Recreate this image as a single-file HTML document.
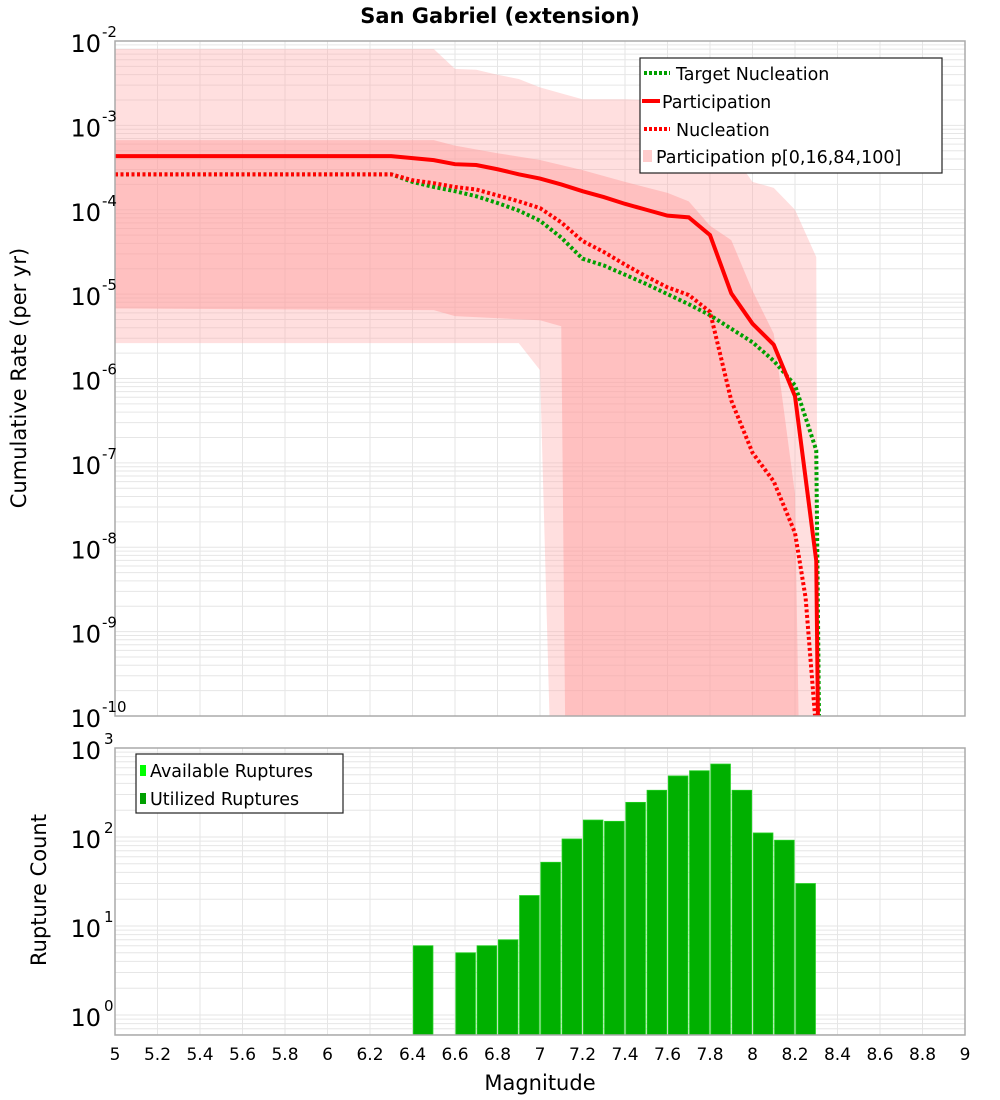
<!DOCTYPE html>
<html><head><meta charset="utf-8"><style>
body{margin:0;background:#fff;}
svg{display:block;font-family:"DejaVu Sans","Liberation Sans",sans-serif;}
</style></head><body>
<svg id="chart" width="1000" height="1100" viewBox="0 0 1000 1100">
<g id="topplot"></g>
<g id="botplot"></g>
<text x="500" y="23" text-anchor="middle" font-size="21" font-weight="bold">San Gabriel (extension)</text>
<text transform="translate(26,378) rotate(-90)" text-anchor="middle" font-size="21">Cumulative Rate (per yr)</text>
<text transform="translate(46,890) rotate(-90)" text-anchor="middle" font-size="21">Rupture Count</text>
<text x="540" y="1090" text-anchor="middle" font-size="21">Magnitude</text>
<g>
<rect x="640" y="58" width="302" height="115" fill="#fff" stroke="#222" stroke-width="1.2"/>
<line x1="644" y1="73" x2="670" y2="73" stroke="#00a000" stroke-width="4" stroke-dasharray="3,2"/>
<text x="676" y="80" font-size="17.5">Target Nucleation</text>
<line x1="642" y1="101" x2="660" y2="101" stroke="#f00" stroke-width="4"/>
<text x="662" y="108" font-size="17.5">Participation</text>
<line x1="644" y1="129" x2="670" y2="129" stroke="#f00" stroke-width="4" stroke-dasharray="3,2"/>
<text x="676" y="136" font-size="17.5">Nucleation</text>
<rect x="643" y="150" width="9" height="12" fill="#ffcccc"/>
<text x="656" y="163" font-size="17.5">Participation p[0,16,84,100]</text>
</g>
<g>
<rect x="136" y="754" width="207" height="59" fill="#fff" stroke="#222" stroke-width="1.2"/>
<rect x="140" y="765" width="6" height="11" fill="#00ff00"/>
<text x="150" y="777" font-size="17.5">Available Ruptures</text>
<rect x="140" y="793" width="6" height="11" fill="#00a000"/>
<text x="150" y="805" font-size="17.5">Utilized Ruptures</text>
</g>
</svg>
<script>
// ---- data (rates stored as log10 values; -10.5 = below axis) ----
const partMag = [5.0,6.3,6.5,6.6,6.7,6.8,6.9,7.0,7.1,7.2,7.3,7.4,7.5,7.6,7.7,7.8,7.9,8.0,8.1,8.2,8.3,8.31];
const partLog = [-3.365,-3.365,-3.412,-3.46,-3.47,-3.52,-3.58,-3.63,-3.70,-3.78,-3.85,-3.93,-4.0,-4.07,-4.09,-4.30,-4.99,-5.35,-5.60,-6.21,-8.16,-10.5];
const nuclMag = [5.0,6.3,6.4,6.5,6.6,6.7,6.8,6.9,7.0,7.1,7.2,7.3,7.4,7.5,7.6,7.7,7.8,7.9,8.0,8.1,8.2,8.25,8.31];
const nuclLog = [-3.58,-3.58,-3.65,-3.685,-3.73,-3.76,-3.83,-3.90,-3.98,-4.15,-4.37,-4.50,-4.65,-4.79,-4.92,-5.01,-5.21,-6.26,-6.88,-7.22,-7.83,-8.6,-10.5];
const targMag = [5.0,6.3,6.4,6.5,6.6,6.7,6.8,6.9,7.0,7.1,7.2,7.3,7.4,7.5,7.6,7.7,7.8,7.9,8.0,8.1,8.2,8.3,8.315];
const targLog = [-3.58,-3.58,-3.67,-3.73,-3.78,-3.84,-3.92,-4.01,-4.13,-4.33,-4.58,-4.66,-4.77,-4.88,-5.00,-5.12,-5.25,-5.41,-5.57,-5.79,-6.08,-6.85,-10.5];
const p100Mag = [5.0,6.5,6.6,6.7,6.8,6.9,7.0,7.1,7.2,7.3,7.4,7.5,7.6,7.7,7.85,7.9,8.0,8.1,8.2,8.3,8.31];
const p100Log = [-2.095,-2.095,-2.33,-2.34,-2.40,-2.45,-2.55,-2.62,-2.69,-2.69,-2.69,-2.70,-2.70,-2.70,-3.2,-3.31,-3.67,-3.74,-4.0,-4.56,-10.5];
const p0Mag = [5.0,6.9,7.0,7.05];
const p0Log = [-5.58,-5.58,-5.90,-10.5];
const p84Mag = [5.0,6.5,6.6,6.8,7.0,7.2,7.4,7.6,7.7,7.8,7.9,8.0,8.1,8.2,8.22];
const p84Log = [-3.175,-3.175,-3.24,-3.33,-3.41,-3.53,-3.67,-3.80,-3.90,-4.19,-4.36,-4.96,-5.47,-7.37,-10.5];
const p16Mag = [5.0,6.5,6.6,7.0,7.1,7.12];
const p16Log = [-5.17,-5.19,-5.26,-5.31,-5.38,-10.5];
const barMags = [6.4,6.6,6.7,6.8,6.9,7.0,7.1,7.2,7.3,7.4,7.5,7.6,7.7,7.8,7.9,8.0,8.1,8.2];
const barCounts = [6,5,6,7,22,52,95,155,150,245,335,485,555,660,335,111,92,30];
const xTicks = ["5","5.2","5.4","5.6","5.8","6","6.2","6.4","6.6","6.8","7","7.2","7.4","7.6","7.8","8","8.2","8.4","8.6","8.8","9"];
const topExps = [-2,-3,-4,-5,-6,-7,-8,-9,-10];
const botExps = [3,2,1,0];

const NS="http://www.w3.org/2000/svg";
const L=115,R=965;
const T1=41,B1=716,T2=748,B2=1035;
const xs=m=>L+(m-5)/4*(R-L);
const yTop=lg=>T1+(-2-lg)*(B1-T1)/8;
const yBot=v=>T2+(3-Math.log10(v))*89;
function mk(parent,tag,attrs){const e=document.createElementNS(NS,tag);for(const k in attrs)e.setAttribute(k,attrs[k]);parent.appendChild(e);return e;}
const topG=document.getElementById('topplot'), botG=document.getElementById('botplot');

function grid(g,T,B,minorFn){
  mk(g,'rect',{x:L,y:T,width:R-L,height:B-T,fill:'#fff'});
  const gl=mk(g,'g',{stroke:'#e6e6e6','stroke-width':1});
  
  
  xTicks.forEach(t=>{const X=xs(+t);mk(gl,'line',{x1:X,x2:X,y1:T,y2:B});});
  minorFn(gl);
}
grid(topG,T1,B1,gl=>{
  for(let e=-10;e<-2;e++)for(let k=1;k<10;k++){const Y=yTop(e+Math.log10(k));mk(gl,'line',{x1:L,x2:R,y1:Y,y2:Y});}
});
const defs=mk(topG,'defs',{});
const clipT=mk(defs,'clipPath',{id:'ct'});mk(clipT,'rect',{x:L,y:T1,width:R-L,height:B1-T1});
function band(um,ul,lm,ll,fill,name){
  let pts=um.map((m,i)=>xs(m)+','+yTop(ul[i]));
  for(let i=lm.length-1;i>=0;i--)pts.push(xs(lm[i])+','+yTop(ll[i]));
  const p=mk(topG,'polygon',{points:pts.join(' '),fill:fill,'clip-path':'url(#ct)'});
  
  
}
band(p100Mag,p100Log,p0Mag,p0Log,'rgba(255,170,170,0.38)','band-p0-p100');
band(p84Mag,p84Log,p16Mag,p16Log,'rgba(255,150,150,0.42)','band-p16-p84');
function line(ms,ls,color,dash,name){
  const p=mk(topG,'polyline',{points:ms.map((m,i)=>xs(m)+','+yTop(ls[i])).join(' '),fill:'none',stroke:color,'stroke-width':4,'clip-path':'url(#ct)'});
  if(dash)p.setAttribute('stroke-dasharray','3,2.5');
  
  
}
line(targMag,targLog,'#00a000',true,'target-nucleation-line');
line(nuclMag,nuclLog,'#ff0000',true,'nucleation-line');
line(partMag,partLog,'#ff0000',false,'participation-line');
mk(topG,'rect',{x:L,y:T1,width:R-L,height:B1-T1,fill:'none',stroke:'#aaa','stroke-width':1.5});
topExps.forEach(e=>{
  const Y=yTop(e);
  const t=mk(topG,'text',{x:101,y:Y+11,'text-anchor':'end','font-size':24});t.textContent='10';
  
  
  const s=mk(topG,'text',{x:102,y:Y-4,'font-size':15});s.textContent=String(e);
  
  
});
grid(botG,T2,B2,gl=>{
  for(let e=-1;e<3;e++)for(let k=1;k<10;k++){const Y=yBot(Math.pow(10,e)*k);if(Y<B2&&Y>T2)mk(gl,'line',{x1:L,x2:R,y1:Y,y2:Y});}
});
barMags.forEach((m,i)=>{
  const X=xs(m),W=xs(m+0.1)-X,Y=yBot(barCounts[i]);
  const r=mk(botG,'rect',{x:X+0.8,y:Y,width:W-1.6,height:B2-Y,fill:'#00b000',stroke:'#20d020','stroke-width':0.8});
  
  
});
mk(botG,'rect',{x:L,y:T2,width:R-L,height:B2-T2,fill:'none',stroke:'#aaa','stroke-width':1.5});
botExps.forEach(e=>{
  const Y=yBot(Math.pow(10,e));
  const t=mk(botG,'text',{x:101,y:Y+11,'text-anchor':'end','font-size':24});t.textContent='10';
  
  
  const s=mk(botG,'text',{x:104,y:Y-4,'font-size':15});s.textContent=String(e);
  
  
});
xTicks.forEach(t=>{
  const e=mk(botG,'text',{x:xs(+t),y:1060,'text-anchor':'middle','font-size':17});e.textContent=t;
  
  
});
</script>
</body></html>
